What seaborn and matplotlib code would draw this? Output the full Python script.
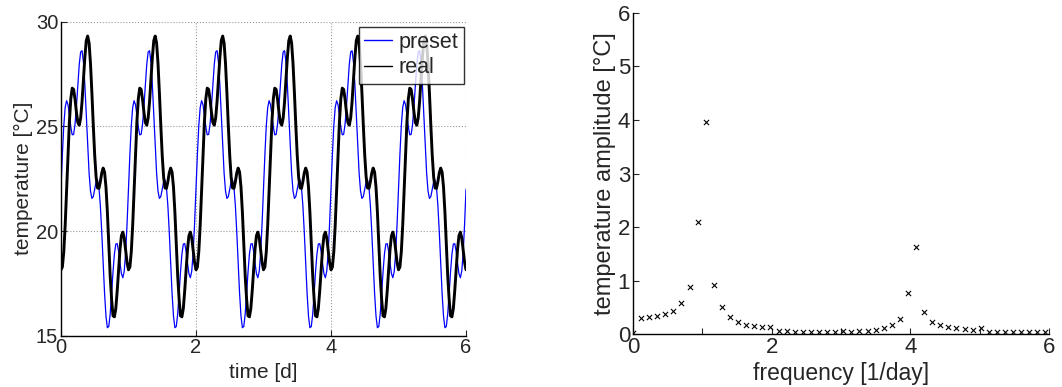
import numpy as np
import pandas as pd
import matplotlib
matplotlib.use("Agg")
import matplotlib.pyplot as plt
import seaborn as sns

# Daily temperature profile [°C], sampled every 1/48 day (repeats each day)
preset_day = [22.00, 23.65, 25.03, 25.91, 26.23, 26.04, 25.54, 24.97,
              24.60, 24.62, 25.10, 25.96, 27.00, 27.96, 28.56, 28.62,
              28.06, 26.97, 25.54, 24.04, 22.77, 21.91, 21.56, 21.65,
              22.00, 22.35, 22.44, 22.09, 21.23, 19.96, 18.46, 17.03,
              15.94, 15.38, 15.44, 16.04, 17.00, 18.04, 18.90, 19.38,
              19.40, 19.03, 18.46, 17.96, 17.77, 18.09, 18.97, 20.35]
real_day = [18.15, 18.28, 19.01, 20.28, 21.94, 23.69, 25.23, 26.32,
            26.83, 26.77, 26.30, 25.68, 25.19, 25.06, 25.40, 26.19,
            27.25, 28.31, 29.10, 29.32, 28.99, 28.01, 26.60, 25.04,
            23.61, 22.58, 22.06, 22.04, 22.36, 22.78, 23.01, 22.82,
            22.11, 20.91, 19.40, 17.86, 16.75, 15.95, 15.90, 16.30,
            17.15, 18.15, 19.14, 19.78, 19.95, 19.67, 19.10, 18.50]
n_days = 6

# Amplitude spectrum of the measured temperature
amplitude = [0.02, 0.30, 0.32, 0.34, 0.38, 0.44, 0.58, 0.89, 2.09, 3.96,
             0.93, 0.51, 0.33, 0.23, 0.18, 0.15, 0.13, 0.13, 0.06, 0.06,
             0.05, 0.05, 0.05, 0.05, 0.05, 0.05, 0.07, 0.05, 0.06, 0.06,
             0.08, 0.11, 0.17, 0.29, 0.78, 1.63, 0.41, 0.24, 0.17, 0.13,
             0.11, 0.10, 0.09, 0.11, 0.05, 0.05, 0.05, 0.05, 0.05, 0.05,
             0.05, 0.05]
freq_max = 5.95  # last spectral bin [1/day]

# ---- build tables ----
n_per_day = len(preset_day)
t = np.linspace(0, n_days, n_days * n_per_day + 1)
ts = pd.DataFrame({
    "time": np.concatenate([t, t]),
    "temp": np.concatenate([np.append(np.tile(preset_day, n_days), preset_day[0]),
                            np.append(np.tile(real_day, n_days), real_day[0])]),
    "series": ["preset"] * len(t) + ["real"] * len(t),
})
spec = pd.DataFrame({"freq": np.linspace(0, freq_max, len(amplitude)),
                     "amp": amplitude})

sns.set_style("white")
plt.rcParams["font.family"] = ["Liberation Sans", "DejaVu Sans"]
plt.rcParams.update({
    "xtick.direction": "in", "ytick.direction": "in",
    "xtick.major.size": 4, "ytick.major.size": 4,
    "xtick.major.width": 0.8, "ytick.major.width": 0.8,
    "xtick.bottom": True, "ytick.left": True,
    "axes.edgecolor": "black", "axes.linewidth": 1.0,
})

fig = plt.figure(figsize=(10.62, 3.87), dpi=100)
ax1 = fig.add_axes([0.0574, 0.1326, 0.3814, 0.811])
ax2 = fig.add_axes([0.596, 0.136, 0.3917, 0.831])

# ---- left: time series ----
sns.lineplot(data=ts[ts.series == "preset"], x="time", y="temp", ax=ax1,
             color="#0000ff", linewidth=0.9, label="preset", estimator=None)
sns.lineplot(data=ts[ts.series == "real"], x="time", y="temp", ax=ax1,
             color="black", linewidth=2.1, label="real", estimator=None)
ax1.set_xlim(0, 6)
ax1.set_ylim(15, 30)
ax1.set_xticks([0, 2, 4, 6])
ax1.set_yticks([15, 20, 25, 30])
ax1.grid(True, linestyle=":", color="0.6", linewidth=0.8)
ax1.set_axisbelow(True)
sns.despine(ax=ax1)
ax1.set_xlabel("time [d]", fontsize=15, labelpad=4)
ax1.set_ylabel("temperature [°C]", fontsize=15, labelpad=2)
ax1.tick_params(labelsize=14.5, pad=2)
leg = ax1.legend(loc="upper right", bbox_to_anchor=(0.994, 0.985),
                 borderaxespad=0, fontsize=15.5, frameon=True, fancybox=False,
                 handlelength=1.3, handletextpad=0.3, labelspacing=0.2,
                 borderpad=0.25)
leg.get_frame().set_edgecolor("black")
leg.get_frame().set_linewidth(1.0)
for h in leg.get_lines():
    h.set_linewidth(1.0)

# ---- right: amplitude spectrum ----
sns.scatterplot(data=spec, x="freq", y="amp", ax=ax2, marker="x",
                color="black", s=14, linewidth=0.8)
ax2.set_xlim(0, 6)
ax2.set_ylim(0, 6)
ax2.set_xticks(range(7))
ax2.set_xticklabels(["0", "", "2", "", "4", "", "6"])
ax2.set_yticks(range(7))
sns.despine(ax=ax2)
ax2.set_xlabel("frequency [1/day]", fontsize=16.5, labelpad=3)
ax2.set_ylabel("temperature amplitude [°C]", fontsize=17, labelpad=1)
ax2.tick_params(labelsize=16, pad=2)

fig.savefig("out.png", dpi=100)
